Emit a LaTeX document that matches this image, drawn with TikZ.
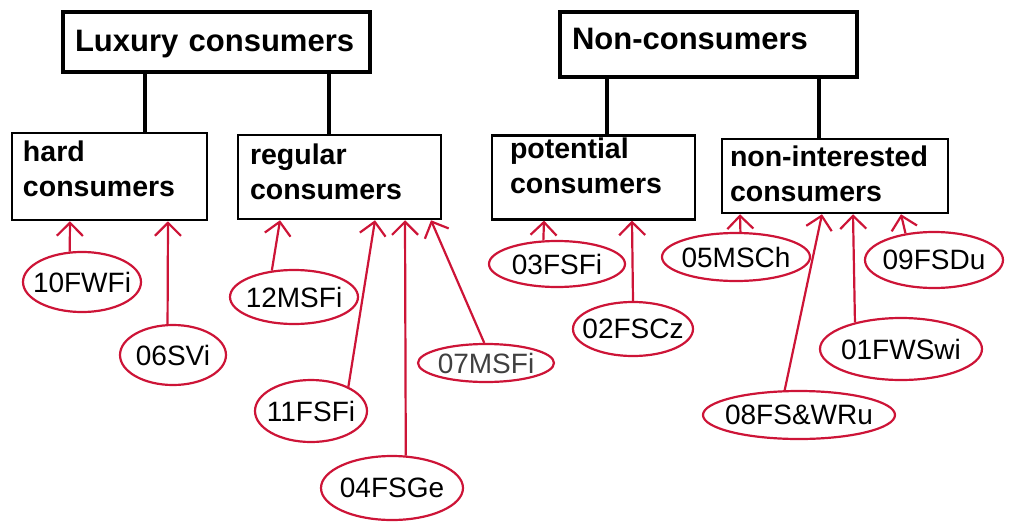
\documentclass[tikz,border=0pt]{standalone}
\usepackage{fontspec}
\setmainfont{Liberation Sans}
\usepackage{tikz}
\usetikzlibrary{arrows.meta,shapes.geometric}
\definecolor{penred}{RGB}{205,20,55}
\newcommand{\idtext}[1]{\makebox[0pt]{#1}}

\begin{document}
\begin{tikzpicture}[x=1pt, y=-1pt,
  topbox/.style={draw, line width=3.5pt, inner sep=2pt, align=left, font=\fontsize{31}{37}\selectfont\bfseries},
  subbox/.style={draw, line width=2.5pt, inner sep=2pt, align=left, font=\fontsize{28.5}{35}\selectfont\bfseries},
  person/.style={ellipse, draw=penred, line width=2.2pt, inner sep=0pt, font=\fontsize{28}{32}\selectfont},
  pointer/.style={-{Straight Barb[length=13pt,width=26pt]}, draw=penred, line width=2.2pt},
  branch/.style={line width=3.5pt}]
  \useasboundingbox (0,0) rectangle (1012,522);
  % groups
  \node[topbox, minimum width=307pt, minimum height=60pt, text width=283pt, text depth=2pt](lux) at (216.5,42){Luxury consumers};
  \node[topbox, minimum width=297pt, minimum height=65pt, text width=273pt, text depth=11pt](non) at (708.5,44.5){Non-consumers};
  \node[subbox, minimum width=195pt, minimum height=87pt, text width=173pt, text depth=50pt](hard) at (109.5,176.5){hard\\consumers};
  \node[subbox, minimum width=203pt, minimum height=84pt, text width=179pt, text depth=45pt](regular) at (339.5,177){regular\\consumers};
  \node[subbox, minimum width=203pt, minimum height=83pt, text width=167pt, text depth=59pt](potential) at (593.5,177.5){potential\\consumers};
  \node[subbox, minimum width=226pt, minimum height=74pt, text width=210pt, text depth=39pt](nonint) at (835,176){non-interested\\consumers};
  \foreach \a/\d/\b in {lux/-71.5/hard, lux/112.5/regular, non/-101.5/potential, non/110.5/nonint}{
    \draw[branch]([xshift=\d pt]\a.south) -- ([xshift=\d pt]\a.south |- \b.north);}
  % respondents
  \node[person, minimum width=118pt, minimum height=60pt](p10) at (82,282){\idtext{10FWFi}};
  \node[person, minimum width=106pt, minimum height=60pt](p06) at (173,355){\idtext{06SVi}};
  \node[person, minimum width=128pt, minimum height=54pt](p12) at (294,297){\idtext{12MSFi}};
  \node[person, minimum width=112pt, minimum height=62pt](p11) at (311,411){\idtext{11FSFi}};
  \node[person, minimum width=142pt, minimum height=64pt](p04) at (392,488){\idtext{04FSGe}};
  \node[person, minimum width=136pt, minimum height=38pt, text=black!75](p07) at (486,363){\idtext{07MSFi}};
  \node[person, minimum width=136pt, minimum height=46pt](p03) at (557,264){\idtext{03FSFi}};
  \node[person, minimum width=120pt, minimum height=54pt](p02) at (633,329){\idtext{02FSCz}};
  \node[person, minimum width=148pt, minimum height=48pt](p05) at (736,257){\idtext{05MSCh}};
  \node[person, minimum width=138pt, minimum height=56pt](p09) at (934,260){\idtext{09FSDu}};
  \node[person, minimum width=162pt, minimum height=62pt](p01) at (901,349){\idtext{01FWSwi}};
  \node[person, minimum width=192pt, minimum height=48pt](p08) at (799,415){\idtext{08FS\&WRu}};
  % assignments
  \draw[pointer](p10.112) -- ([xshift=-39.5pt]hard.south);
  \draw[pointer](p06.100) -- ([xshift=58.5pt]hard.south);
  \draw[pointer](p12.130) -- ([xshift=-59.5pt]regular.south);
  \draw[pointer](p11.33) -- ([xshift=35.5pt]regular.south);
  \draw[pointer](p04.67) -- ([xshift=65.5pt]regular.south);
  \draw[pointer](p07.95) -- ([xshift=91.5pt]regular.south);
  \draw[pointer](p03.120) -- ([xshift=-49.5pt]potential.south);
  \draw[pointer](p02.north) -- ([xshift=38.5pt]potential.south);
  \draw[pointer](p05.80) -- ([xshift=-95pt]nonint.south);
  \draw[pointer](p08.120) -- ([xshift=-13pt]nonint.south);
  \draw[pointer](p01.150) -- ([xshift=18pt]nonint.south);
  \draw[pointer](p09.137) -- ([xshift=66pt]nonint.south);
\end{tikzpicture}
\end{document}
